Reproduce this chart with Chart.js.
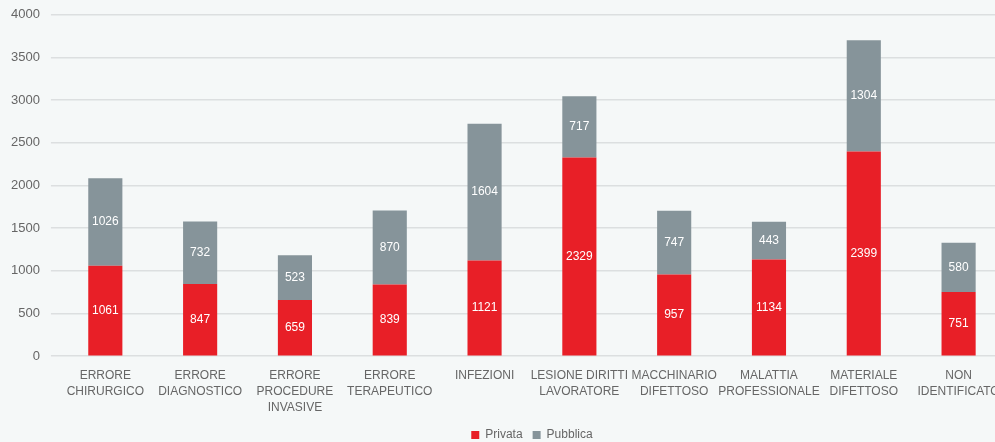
<!DOCTYPE html>
<html>
<head>
<meta charset="utf-8">
<script src="https://cdn.jsdelivr.net/npm/chart.js@4.4.0/dist/chart.umd.min.js"></script>
<style>
  html, body { margin: 0; padding: 0; background: #f5f8f8; overflow: hidden; }
  #wrap { width: 1006px; height: 442px; position: relative; }
</style>
</head>
<body>
<div id="wrap"><canvas id="myChart"></canvas></div>
<script>
const categorie = [
    ['ERRORE', 'CHIRURGICO'],
    ['ERRORE', 'DIAGNOSTICO'],
    ['ERRORE', 'PROCEDURE', 'INVASIVE'],
    ['ERRORE', 'TERAPEUTICO'],
    'INFEZIONI',
    ['LESIONE DIRITTI', 'LAVORATORE'],
    ['MACCHINARIO', 'DIFETTOSO'],
    ['MALATTIA', 'PROFESSIONALE'],
    ['MATERIALE', 'DIFETTOSO'],
    ['NON', 'IDENTIFICATO']
];
const privata = [1061, 847, 659, 839, 1121, 2329, 957, 1134, 2399, 751];
const pubblica = [1026, 732, 523, 870, 1604, 717, 747, 443, 1304, 580];

const fontFamily = "'Liberation Sans', Arial, sans-serif";

// scrive il valore al centro di ogni segmento
const etichette = {
    id: 'etichette',
    afterDatasetsDraw(chart) {
        const ctx = chart.ctx;
        ctx.save();
        ctx.fillStyle = '#ffffff';
        ctx.font = '12px ' + fontFamily;
        ctx.textAlign = 'center';
        ctx.textBaseline = 'middle';
        chart.data.datasets.forEach((ds, i) => {
            chart.getDatasetMeta(i).data.forEach((bar, j) => {
                const y = (bar.y + bar.base) / 2;
                ctx.fillText(ds.data[j], bar.x, y);
            });
        });
        ctx.restore();
    }
};

const ctx = document.getElementById('myChart');
const myChart = new Chart(ctx, {
    type: 'bar',
    data: {
        labels: categorie,
        datasets: [{
            label: 'Privata',
            data: privata,
            backgroundColor: '#e81f27',
            barPercentage: 0.36,
            categoryPercentage: 1
        }, {
            label: 'Pubblica',
            data: pubblica,
            backgroundColor: '#86949a',
            barPercentage: 0.36,
            categoryPercentage: 1
        }]
    },
    options: {
        responsive: true,
        maintainAspectRatio: false,
        animation: false,
        layout: { padding: { top: -4, right: 0, left: 0, bottom: -9 } },
        plugins: {
            tooltip: { enabled: false },
            legend: {
                position: 'bottom',
                fullSize: false,
                labels: {
                    boxWidth: 8,
                    boxHeight: 8,
                    padding: 10,
                    color: '#666666',
                    font: { family: fontFamily, size: 12 }
                }
            }
        },
        scales: {
            x: {
                stacked: true,
                grid: { display: false },
                border: { display: false },
                ticks: {
                    color: '#666666',
                    padding: 4,
                    maxRotation: 0,
                    autoSkip: false,
                    font: { family: fontFamily, size: 12, lineHeight: 1.3 }
                }
            },
            y: {
                stacked: true,
                min: 0,
                max: 4000,
                grid: { color: '#dcdfe0', drawTicks: true, tickLength: 7, lineWidth: 1.5 },
                border: { display: false },
                ticks: {
                    stepSize: 500,
                    color: '#666666',
                    padding: 11,
                    font: { family: fontFamily, size: 13, lineHeight: 0.6 },
                    callback: v => String(v)
                }
            }
        }
    },
    plugins: [etichette]
});
</script>
</body>
</html>
